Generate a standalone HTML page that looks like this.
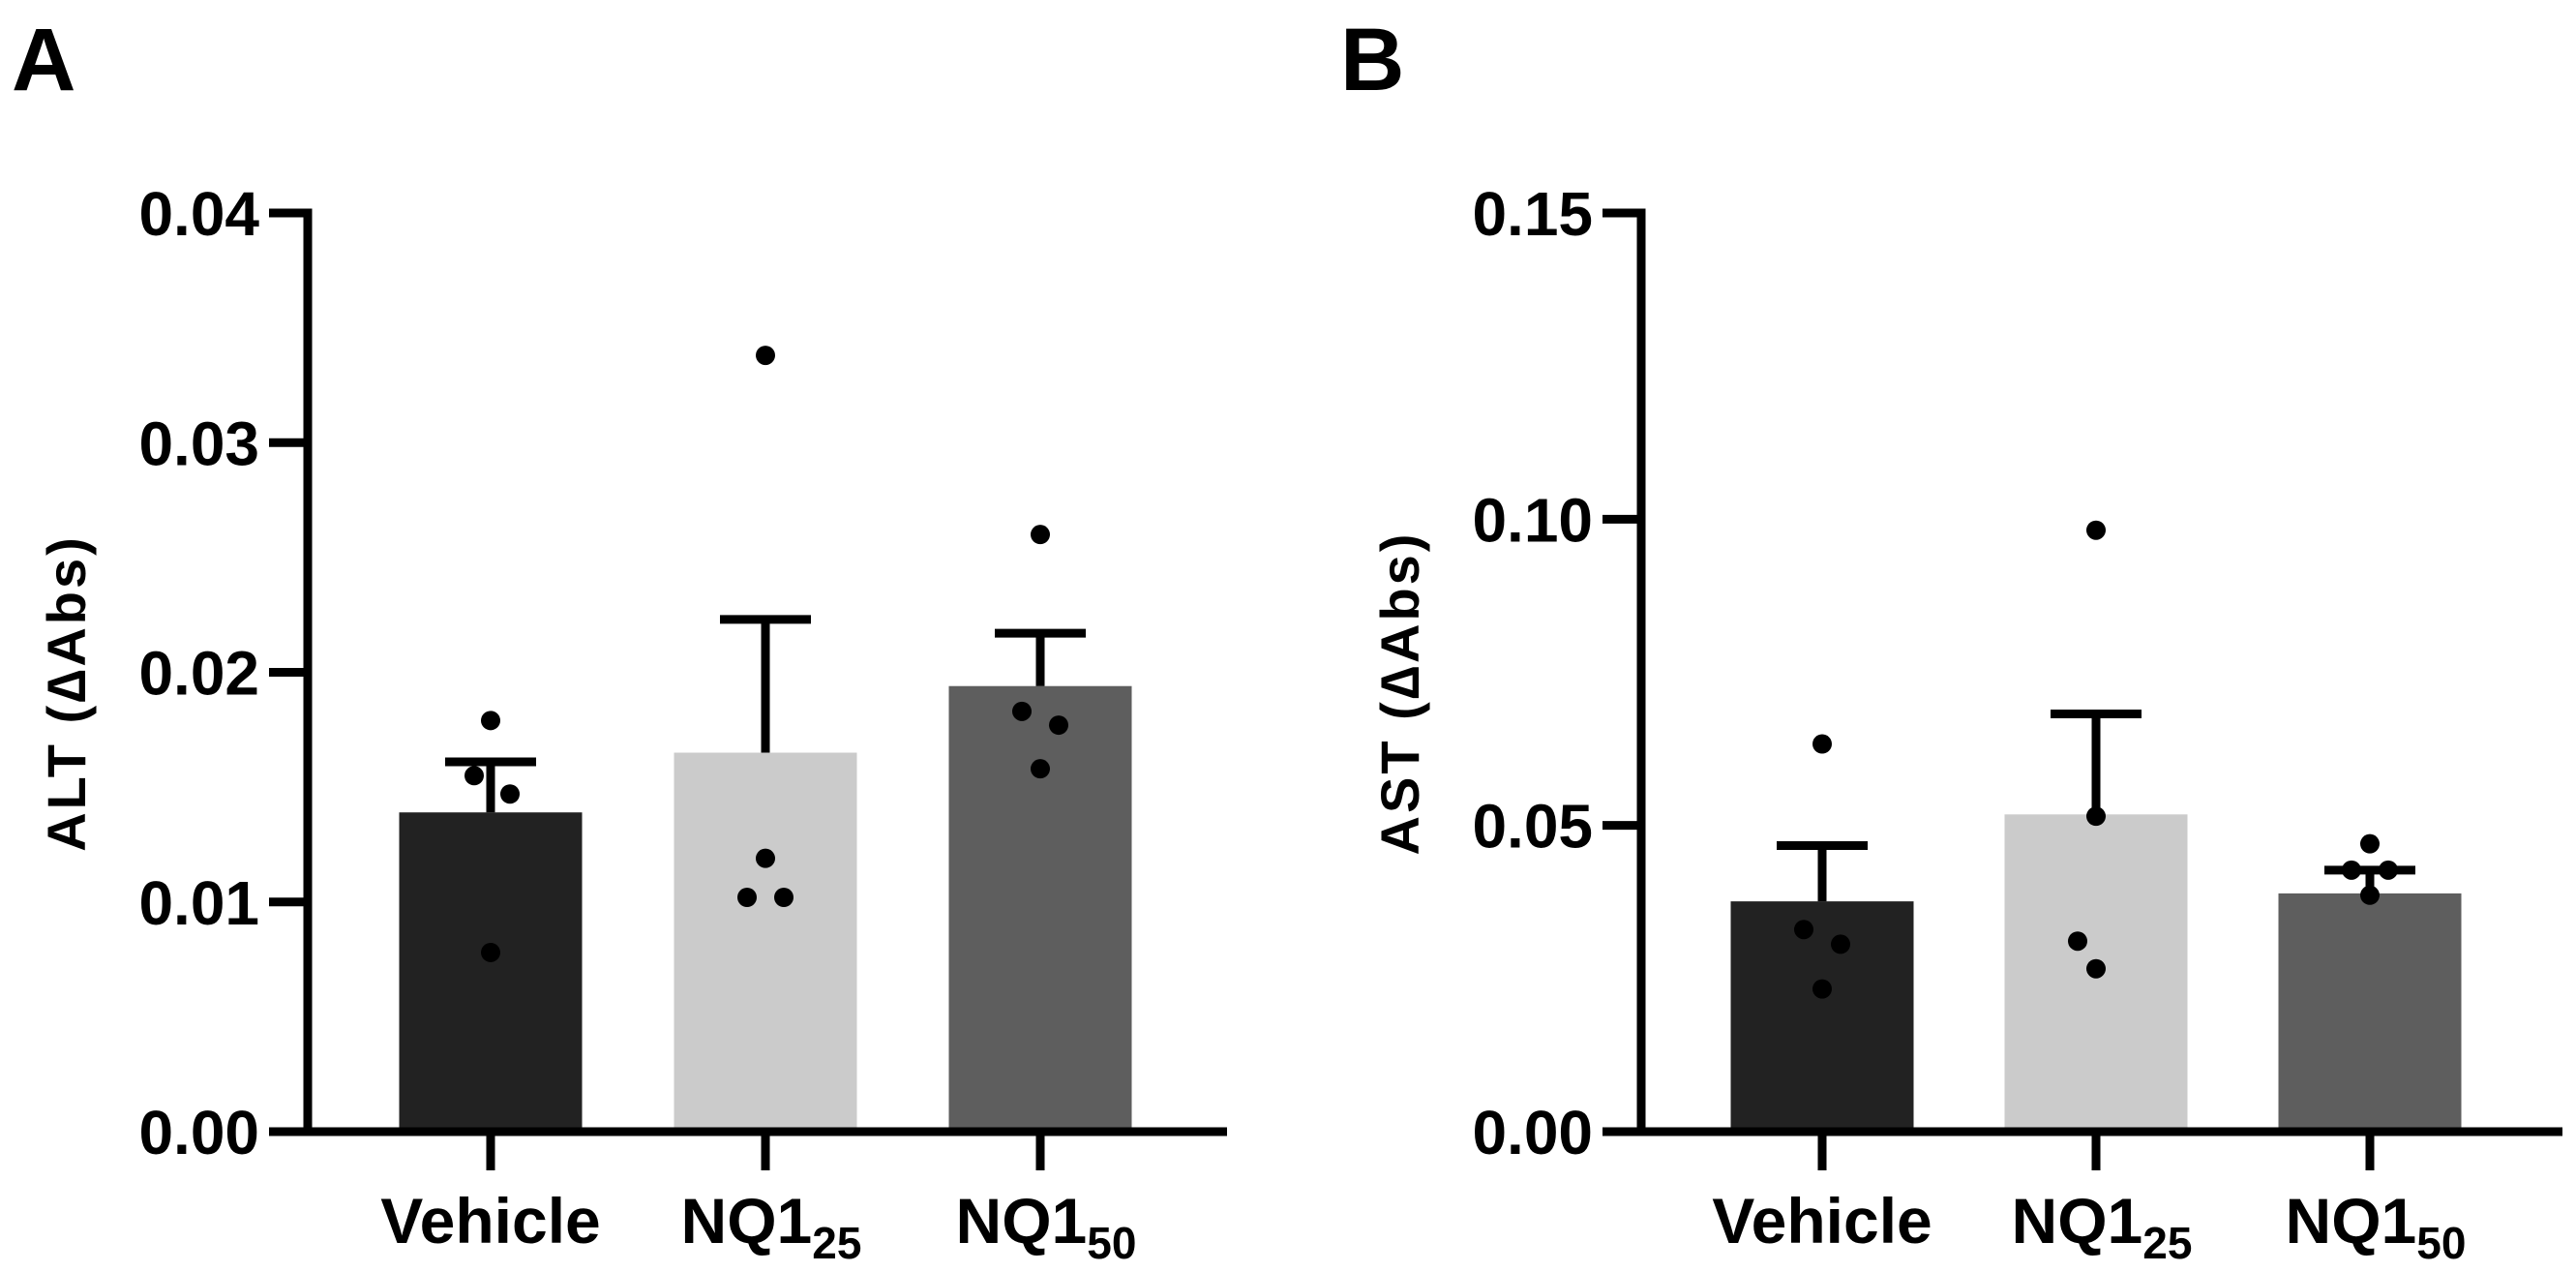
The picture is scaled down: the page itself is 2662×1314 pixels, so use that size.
<!DOCTYPE html>
<html><head><meta charset="utf-8"><style>
html,body{margin:0;padding:0;background:#fff;}
svg{display:block;font-family:"Liberation Sans",sans-serif;font-weight:bold;}
</style></head><body>
<svg id="chart" width="2662" height="1314" viewBox="0 0 2662 1314"></svg>
<script>
const categories = ["Vehicle","NQ1","NQ1"];
const subscripts = ["","25","50"];
const altMeans = [0.0139, 0.0165, 0.0194];
const altErr = [0.0161, 0.0223, 0.0217];
const altPoints = [[0.0179,0.0155,0.0147,0.0078],[0.0338,0.0119,0.0102,0.0102],[0.0260,0.0183,0.0177,0.0158]];
const altTicks = [0,0.01,0.02,0.03,0.04];
const altTickLabels = ["0.00","0.01","0.02","0.03","0.04"];
const astMeans = [0.0376, 0.0518, 0.0389];
const astErr = [0.0467, 0.0682, 0.0427];
const astPoints = [[0.0633,0.0330,0.0306,0.0233],[0.0982,0.0515,0.0311,0.0266],[0.0470,0.0427,0.0427,0.0386]];
const astTicks = [0,0.05,0.10,0.15];
const astTickLabels = ["0.00","0.05","0.10","0.15"];
const colors = ["#222222","#cbcbcb","#5e5e5e"];

const NS="http://www.w3.org/2000/svg";
const svg=document.getElementById('chart');
function mk(tag,attrs,parent){const e=document.createElementNS(NS,tag);for(const k in attrs)e.setAttribute(k,attrs[k]);(parent||svg).appendChild(e);return e;}

function panel(opt){
  const g=mk('g',{});
  
  
  const y0=1169, y1=220, ax=opt.axisX;
  const yS=v=>y0-(v/opt.max)*(y0-y1);
  const xS=i=>opt.firstX+i*opt.step;
  const bw=189;
  opt.means.forEach((m,i)=>{
    const r=mk('rect',{x:xS(i)-bw/2,y:yS(m),width:bw,height:y0-yS(m),fill:colors[i]},g);
    
    
  });
  opt.err.forEach((e,i)=>{
    const eg=mk('g',{stroke:'#000','stroke-width':9},g);
    
    
    mk('line',{x1:xS(i),x2:xS(i),y1:yS(opt.means[i]),y2:yS(e)},eg);
    mk('line',{x1:xS(i)-47,x2:xS(i)+47,y1:yS(e),y2:yS(e)},eg);
  });
  const offs=opt.offs;
  opt.points.forEach((ps,i)=>{
    ps.forEach((p,j)=>{
      const c=mk('ellipse',{cx:xS(i)+offs[i][j],cy:yS(p),rx:10,ry:10,fill:'#000'},g);
      
      
    });
  });
  const yAxis=mk('line',{x1:ax,x2:ax,y1:y1-4.5,y2:y0+4.5,stroke:'#000','stroke-width':9},g);
  
  
  const xAxis=mk('line',{x1:ax-40,x2:opt.axisEnd,y1:y0,y2:y0,stroke:'#000','stroke-width':9},g);
  
  
  opt.ticks.forEach((t,k)=>{
    mk('line',{x1:ax-40,x2:ax,y1:yS(t),y2:yS(t),stroke:'#000','stroke-width':9},g);
    const tl=mk('text',{x:ax-50,y:yS(t)+23,'text-anchor':'end','font-size':64},g);
    tl.textContent=opt.tickLabels[k];
    
    
  });
  categories.forEach((c,i)=>{
    mk('line',{x1:xS(i),x2:xS(i),y1:y0,y2:y0+40,stroke:'#000','stroke-width':9},g);
    const t=mk('text',{x:xS(i)+(subscripts[i]?6:0),y:1284,'text-anchor':'middle','font-size':66},g);
    t.textContent=c;
    if(subscripts[i]){const s=mk('tspan',{'font-size':46,dy:16},t);s.textContent=subscripts[i];}
    
    
  });
  const title=mk('text',{x:0,y:0,'text-anchor':'middle','font-size':56,'letter-spacing':3,transform:`translate(${opt.titleX},716) rotate(-90)`},g);
  title.textContent=opt.title;
  
  
  const letter=mk('text',{x:opt.letterX,y:93,'font-size':92},g);
  letter.textContent=opt.letter;
  
  
}
panel({name:'panel-a-alt',axisX:318,axisEnd:1268,firstX:507,step:284,max:0.04,means:altMeans,err:altErr,points:altPoints,
  ticks:altTicks,tickLabels:altTickLabels,title:'ALT (\u2206Abs)',titleX:88,letter:'A',letterX:12,
  offs:[[0,-17,20,0],[0,0,-19,19],[0,-19,19,0]]});
panel({name:'panel-b-ast',axisX:1696,axisEnd:2648,firstX:1883,step:283,max:0.15,means:astMeans,err:astErr,points:astPoints,
  ticks:astTicks,tickLabels:astTickLabels,title:'AST (\u2206Abs)',titleX:1466,letter:'B',letterX:1385,
  offs:[[0,-19,19,0],[0,0,-19,0],[0,-19,19,0]]});
</script>
</body></html>
